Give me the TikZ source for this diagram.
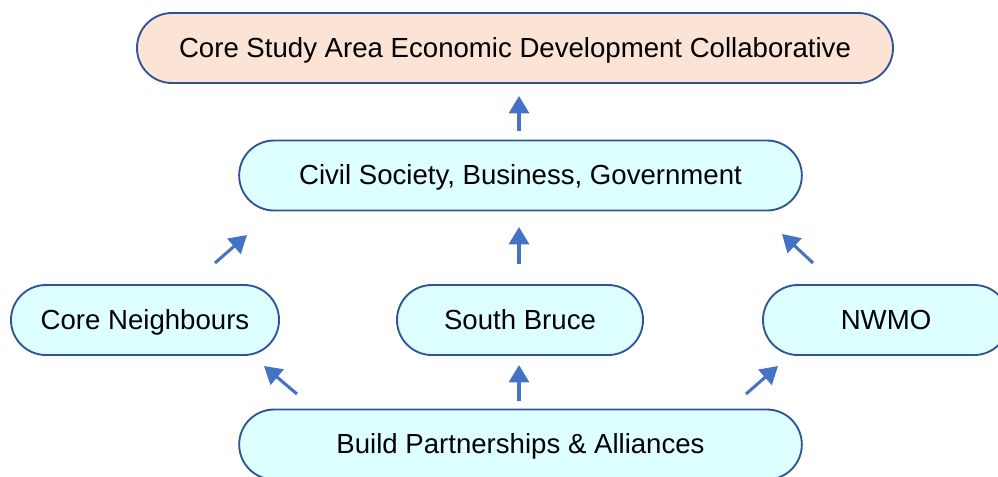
\documentclass[tikz,border=0pt]{standalone}
\usepackage{fontspec}
\setmainfont{Liberation Sans}
\usetikzlibrary{arrows.meta}
\definecolor{peach}{HTML}{FBE3D6}
\definecolor{lcyan}{HTML}{DEFFFF}
\definecolor{bord}{HTML}{2F5597}
\definecolor{arrc}{HTML}{4472C4}
\tikzset{
  pill/.style={draw=bord, line width=1.4pt, rounded corners=26.2pt, minimum height=52.5pt, inner sep=0pt, text height=15pt, text depth=1.5pt, font=\fontsize{20.7}{24}\selectfont, text=black},
  arr/.style={draw=arrc, line width=2.3pt, -{Triangle[length=13pt,width=15pt]}}
}
\begin{document}
\begin{tikzpicture}[x=0.75pt,y=-0.75pt]
\useasboundingbox (0,0) rectangle (998,476);
\clip (0,0) rectangle (998,476);
\node[pill, fill=peach, minimum width=567pt] (top) at (515,48) {Core Study Area Economic Development Collaborative};
\node[pill, fill=lcyan, minimum width=422pt] (civ) at (520.5,175.5) {Civil Society, Business, Government};
\node[pill, fill=lcyan, minimum width=201pt] (cn) at (145,320) {Core Neighbours};
\node[pill, fill=lcyan, minimum width=184.5pt] (sb) at (520,320) {South Bruce};
\node[pill, fill=lcyan, minimum width=184.5pt] (nw) at (886,320) {NWMO};
\node[pill, fill=lcyan, minimum width=422pt] (bp) at (520.5,444.5) {Build Partnerships \& Alliances};
% arrows
\coordinate (a1t) at (519,131); \coordinate (a1h) at (519,96);
\coordinate (a2t) at (215,263); \coordinate (a2h) at (247,235);
\coordinate (a3t) at (519,264); \coordinate (a3h) at (519,227);
\coordinate (a4t) at (813,263); \coordinate (a4h) at (782,234);
\coordinate (a5t) at (297,394); \coordinate (a5h) at (264,366);
\coordinate (a6t) at (519,401); \coordinate (a6h) at (519,365);
\coordinate (a7t) at (746,394); \coordinate (a7h) at (778,366);
\draw[arr] (a1t) -- (a1h);
\draw[arr] (a2t) -- (a2h);
\draw[arr] (a3t) -- (a3h);
\draw[arr] (a4t) -- (a4h);
\draw[arr] (a5t) -- (a5h);
\draw[arr] (a6t) -- (a6h);
\draw[arr] (a7t) -- (a7h);
\end{tikzpicture}
\end{document}
